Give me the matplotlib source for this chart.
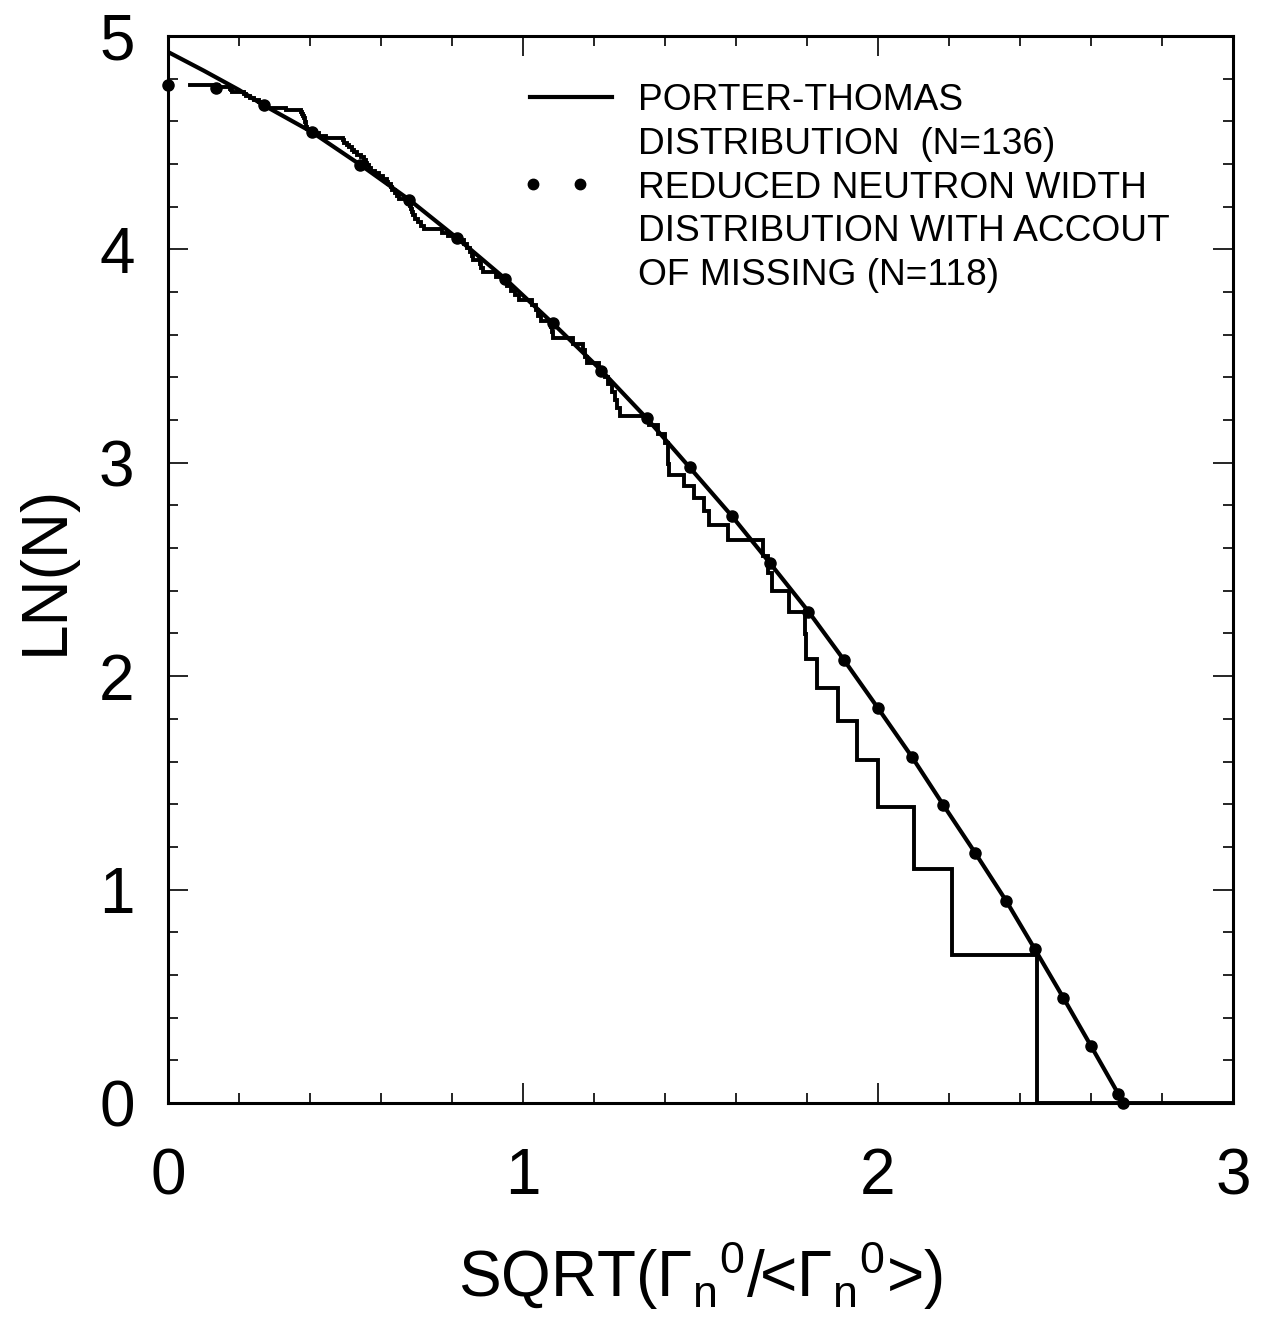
import numpy as np
import matplotlib
matplotlib.use("Agg")
import matplotlib.pyplot as plt
from matplotlib.ticker import MultipleLocator

plt.rcParams['font.family'] = ['Liberation Sans', 'DejaVu Sans']
plt.rcParams['mathtext.fontset'] = 'custom'
plt.rcParams['mathtext.rm'] = 'Liberation Sans'
plt.rcParams['mathtext.it'] = 'Liberation Sans'
plt.rcParams['mathtext.bf'] = 'Liberation Sans:bold'

# Sorted values of sqrt(Gn0/<Gn0>) for the 118 observed resonances
sqrt_widths = [
    0.062, 0.140, 0.176, 0.178, 0.180, 0.214, 0.220, 0.232, 0.243, 0.255,
    0.262, 0.270, 0.276, 0.332, 0.374, 0.378, 0.381, 0.384, 0.386, 0.387,
    0.388, 0.390, 0.392, 0.398, 0.408, 0.425, 0.445, 0.492, 0.497, 0.503,
    0.510, 0.517, 0.524, 0.532, 0.543, 0.551, 0.557, 0.561, 0.565, 0.571,
    0.583, 0.595, 0.606, 0.617, 0.621, 0.627, 0.632, 0.638, 0.644, 0.652,
    0.679, 0.681, 0.684, 0.687, 0.690, 0.697, 0.705, 0.714, 0.722, 0.772,
    0.790, 0.818, 0.834, 0.843, 0.851, 0.855, 0.860, 0.879, 0.882, 0.886,
    0.925, 0.950, 0.954, 0.965, 0.978, 0.988, 1.025, 1.037, 1.043, 1.050,
    1.078, 1.082, 1.085, 1.140, 1.168, 1.175, 1.180, 1.215, 1.230, 1.240,
    1.250, 1.258, 1.264, 1.272, 1.355, 1.380, 1.400, 1.408, 1.409, 1.410,
    1.454, 1.482, 1.510, 1.524, 1.576, 1.676, 1.689, 1.701, 1.748, 1.794,
    1.797, 1.828, 1.887, 1.942, 1.999, 2.101, 2.207, 2.447,
]

# Porter-Thomas distribution (N=136), ln N(>x)
pt_x = [0.000, 0.100, 0.200, 0.270, 0.405, 0.542, 0.680, 0.815, 0.950,
        1.085, 1.221, 1.348, 1.469, 1.588, 1.696, 1.804, 1.904, 2.000,
        2.095, 2.184, 2.274, 2.361, 2.442, 2.522, 2.600, 2.677, 2.692]
pt_y = [4.925, 4.838, 4.747, 4.675, 4.550, 4.396, 4.232, 4.052, 3.862,
        3.652, 3.432, 3.209, 2.979, 2.751, 2.529, 2.303, 2.076, 1.850,
        1.623, 1.396, 1.171, 0.947, 0.720, 0.493, 0.267, 0.042, 0.000]

# Reduced neutron width distribution with account of missing levels (N=118)
miss_x = [0.000, 0.136, 0.270, 0.405, 0.542, 0.680, 0.815, 0.950, 1.085,
          1.221, 1.348, 1.469, 1.588, 1.696, 1.804, 1.904, 2.000, 2.095,
          2.184, 2.274, 2.361, 2.442, 2.522, 2.600, 2.677, 2.689]
miss_y = [4.770, 4.758, 4.675, 4.550, 4.396, 4.232, 4.052, 3.862, 3.657,
          3.432, 3.209, 2.979, 2.751, 2.529, 2.303, 2.076, 1.850, 1.623,
          1.396, 1.171, 0.947, 0.720, 0.493, 0.267, 0.042, 0.000]

legend_lines = ["PORTER-THOMAS", "DISTRIBUTION  (N=136)",
                "REDUCED NEUTRON WIDTH", "DISTRIBUTION WITH ACCOUT",
                "OF MISSING (N=118)"]

x_max = 3.0

# Cumulative count of resonances with value >= x
counts = len(sqrt_widths) - np.arange(len(sqrt_widths))
step_x = list(sqrt_widths) + [x_max]
step_y = list(np.log(counts)) + [0.0]

fig = plt.figure(figsize=(12.67, 13.17), dpi=100)
ax = fig.add_axes([0.1326, 0.1625, 0.8406, 0.8102])

ax.plot(step_x, step_y, drawstyle='steps-post', color='black', lw=2.8,
        solid_joinstyle='miter')
ax.plot(pt_x, pt_y, color='black', lw=3.0)
ax.plot(miss_x, miss_y, 'o', color='black', ms=8, clip_on=False)

ax.set_xlim(0, x_max)
ax.set_ylim(0, 5)

ax.xaxis.set_major_locator(MultipleLocator(1))
ax.xaxis.set_minor_locator(MultipleLocator(0.2))
ax.yaxis.set_major_locator(MultipleLocator(1))
ax.yaxis.set_minor_locator(MultipleLocator(0.2))
ax.tick_params(which='both', direction='in', top=True, right=True,
               width=1.2, labelsize=46)
ax.tick_params(which='major', length=14.4)
ax.tick_params(which='minor', length=7.2)
ax.tick_params(axis='x', pad=32)
ax.tick_params(axis='y', pad=24)
for sp in ax.spines.values():
    sp.set_linewidth(2.2)

ax.set_xlabel(r'SQRT($\Gamma_{\mathrm{n}}{}^{0}$/<$\Gamma_{\mathrm{n}}{}^{0}$>)',
              fontsize=46)
ax.xaxis.set_label_coords(0.5, -0.1818)
ax.xaxis.label.set_va('baseline')
ax.set_ylabel('LN(N)', fontsize=46)
ax.yaxis.set_label_coords(-0.1146, 0.5)
ax.yaxis.label.set_va('center')

# Legend
tr = ax.transAxes
ax.plot([0.340, 0.417], [0.9428, 0.9428], color='black', lw=3.0, transform=tr)
ax.plot([0.3427, 0.3869], [0.8613, 0.8613], 'o', color='black', ms=7.5,
        transform=tr)
for txt, yb in zip(legend_lines, [0.9302, 0.8898, 0.8486, 0.8074, 0.7667]):
    ax.text(0.4413, yb, txt, transform=tr, fontsize=26.7, va='baseline',
            ha='left')

fig.savefig('out.png', dpi=100)
